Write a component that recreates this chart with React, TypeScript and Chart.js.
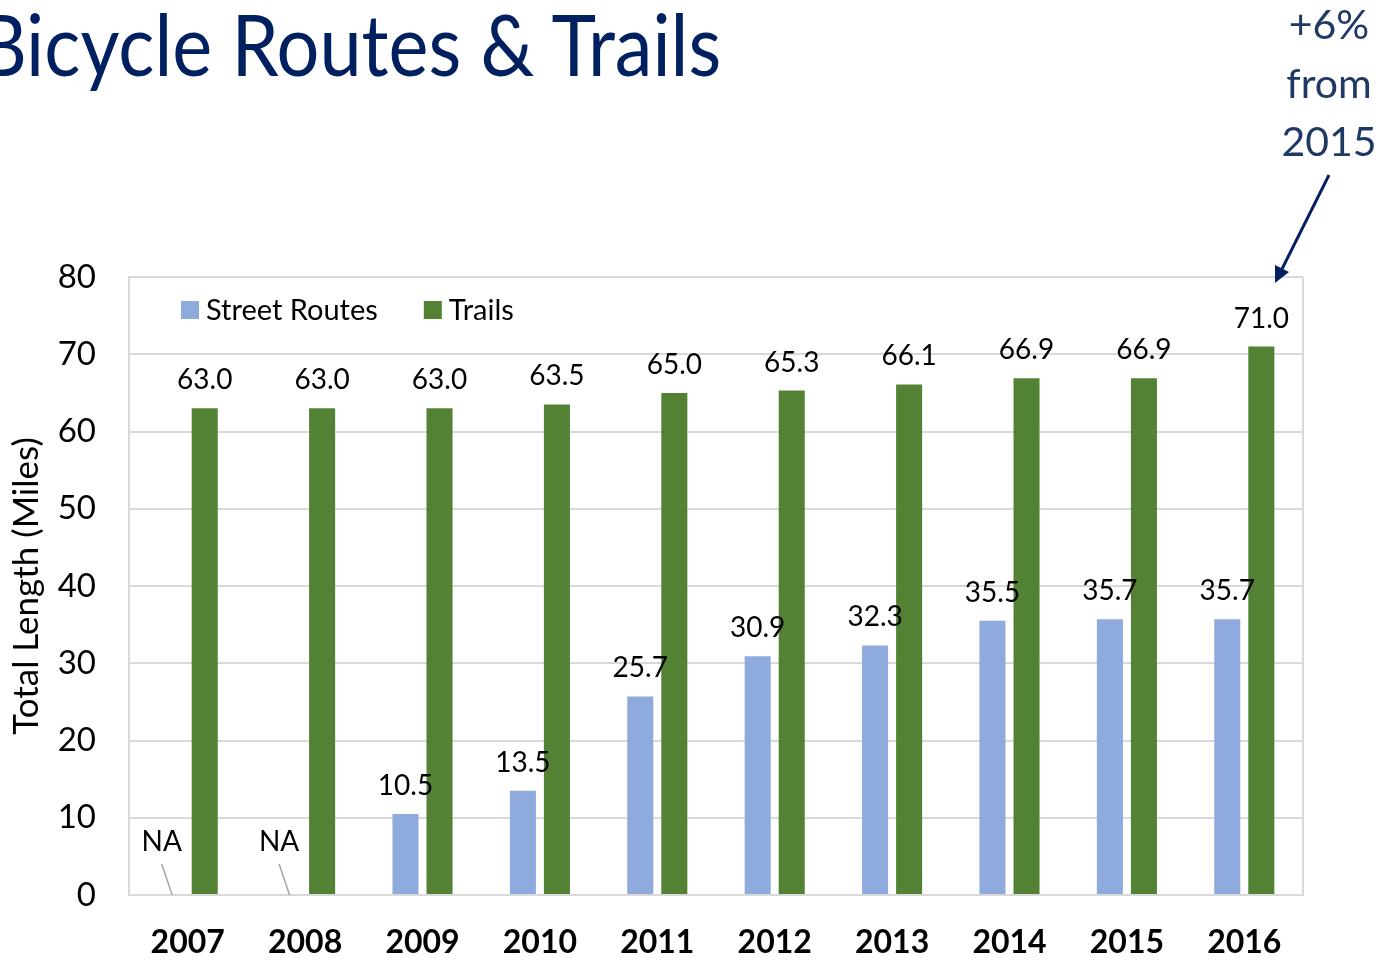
import React, { useEffect, useRef } from "react";
import { Chart, registerables } from "chart.js";

Chart.register(...registerables);

// ---------------- data ----------------
const years: string[] = ["2007", "2008", "2009", "2010", "2011", "2012", "2013", "2014", "2015", "2016"];
const streetRoutes: (number | null)[] = [null, null, 10.5, 13.5, 25.7, 30.9, 32.3, 35.5, 35.7, 35.7];
const trails: number[] = [63.0, 63.0, 63.0, 63.5, 65.0, 65.3, 66.1, 66.9, 66.9, 71.0];
const seriesNames: string[] = ["Street Routes", "Trails"];
const seriesColors: string[] = ["#8FAADC", "#548235"];
const yMin = 0;
const yMax = 80;
const yStep = 10;
const missingLabel = "NA";
const chartTitle = "Bicycle Routes & Trails";
const yAxisTitle = "Total Length (Miles)";
const annotationLines: string[] = ["+6%", "from", "2015"];

const FONT = "Lato";
const GRID = "#d9d9d9";

const overlayPlugin = {
  id: "overlayPlugin",
  afterDatasetsDraw(chart: any) {
    const { ctx, chartArea } = chart;
    const yScale = chart.scales.y;
    const y0 = yScale.getPixelForValue(0);
    ctx.save();
    // right border of plot area
    ctx.strokeStyle = GRID;
    ctx.lineWidth = 2;
    ctx.beginPath();
    ctx.moveTo(chartArea.right, chartArea.top);
    ctx.lineTo(chartArea.right, chartArea.bottom + 1);
    ctx.stroke();

    // data labels
    ctx.font = `28px ${FONT}`;
    ctx.textAlign = "center";
    ctx.textBaseline = "alphabetic";
    chart.data.datasets.forEach((ds: any, di: number) => {
      const meta = chart.getDatasetMeta(di);
      meta.data.forEach((el: any, i: number) => {
        const v = ds.data[i];
        const x = el.x;
        if (v === null || v === undefined) {
          ctx.fillStyle = "#000";
          ctx.fillText(missingLabel, x - 9, y0 - 44);
          ctx.strokeStyle = "#a6a6a6";
          ctx.lineWidth = 1.5;
          ctx.beginPath();
          ctx.moveTo(x - 9, y0 - 31);
          ctx.lineTo(x + 1.5, y0);
          ctx.stroke();
        } else {
          ctx.fillStyle = "#000";
          ctx.fillText(v.toFixed(1), x, el.y - 19);
        }
      });
    });

    // legend inside plot area
    ctx.font = `29px ${FONT}`;
    ctx.textAlign = "left";
    ctx.textBaseline = "middle";
    let lx = chartArea.left + 52;
    const ly = chartArea.top + 33;
    chart.data.datasets.forEach((ds: any) => {
      ctx.fillStyle = ds.backgroundColor;
      ctx.fillRect(lx, ly - 9, 18, 18);
      ctx.fillStyle = "#000";
      ctx.fillText(ds.label, lx + 25, ly + 1);
      lx += 25 + ctx.measureText(ds.label).width + 46;
    });
    ctx.restore();
  },
};

export default function App() {
  const canvasRef = useRef<HTMLCanvasElement | null>(null);

  useEffect(() => {
    document.body.style.margin = "0";
    const canvas = canvasRef.current;
    if (!canvas) return;
    const chart = new Chart(canvas, {
      type: "bar",
      data: {
        labels: years,
        datasets: [
          {
            label: seriesNames[0],
            data: streetRoutes,
            backgroundColor: seriesColors[0],
            categoryPercentage: 0.58,
            barPercentage: 0.765,
          },
          {
            label: seriesNames[1],
            data: trails,
            backgroundColor: seriesColors[1],
            categoryPercentage: 0.58,
            barPercentage: 0.765,
          },
        ],
      },
      options: {
        animation: false,
        responsive: false,
        maintainAspectRatio: false,
        devicePixelRatio: 1,
        layout: { padding: { left: 0, top: 277, right: 79, bottom: 0 } },
        plugins: {
          legend: { display: false },
          tooltip: { enabled: false },
          title: { display: false },
        },
        scales: {
          x: {
            grid: { display: false, drawTicks: false },
            border: { display: true, color: GRID, width: 2 },
            ticks: {
              color: "#000",
              font: { family: FONT, size: 32, weight: "bold" },
              padding: 28,
              maxRotation: 0,
              autoSkip: false,
            },
            afterFit: (scale: any) => {
              scale.height = 65;
            },
          },
          y: {
            min: yMin,
            max: yMax,
            grid: { color: GRID, lineWidth: 2, drawTicks: false },
            border: { display: true, color: GRID, width: 2 },
            ticks: {
              stepSize: yStep,
              color: "#000",
              font: { family: FONT, size: 33 },
              padding: 33,
            },
            title: {
              display: true,
              text: yAxisTitle,
              color: "#000",
              font: { family: FONT, size: 35 },
              padding: { top: 6, bottom: 0 },
            },
            afterFit: (scale: any) => {
              scale.width = 129;
            },
          },
        },
      },
      plugins: [overlayPlugin],
    });
    return () => chart.destroy();
  }, []);

  return (
    <div
      style={{
        position: "fixed",
        left: 0,
        top: 0,
        width: 1382,
        height: 960,
        overflow: "hidden",
        background: "#fff",
        fontFamily: FONT,
      }}
    >
      <canvas
        ref={canvasRef}
        width={1382}
        height={960}
        style={{ position: "absolute", left: 0, top: 0, width: 1382, height: 960 }}
      />
      <div
        style={{
          position: "absolute",
          left: -22,
          top: 76 - 0.987 * 85,
          fontSize: 85,
          lineHeight: 1.2,
          color: "#002060",
          whiteSpace: "nowrap",
          transformOrigin: "0 0",
          transform: "scaleX(0.89)",
        }}
      >
        {chartTitle}
      </div>
      <div
        style={{
          position: "absolute",
          left: 1229,
          top: -4.7,
          width: 200,
          textAlign: "center",
          fontSize: 41,
          lineHeight: "58.5px",
          color: "#1F3864",
        }}
      >
        {annotationLines.map((t, i) => (
          <div key={i}>{t}</div>
        ))}
      </div>
      <svg
        width={1382}
        height={960}
        style={{ position: "absolute", left: 0, top: 0, pointerEvents: "none" }}
      >
        <line x1={1329} y1={175} x2={1282} y2={269} stroke="#002060" strokeWidth={3} />
        <polygon points="1275,283 1289,272 1275,265" fill="#002060" />
      </svg>
    </div>
  );
}
